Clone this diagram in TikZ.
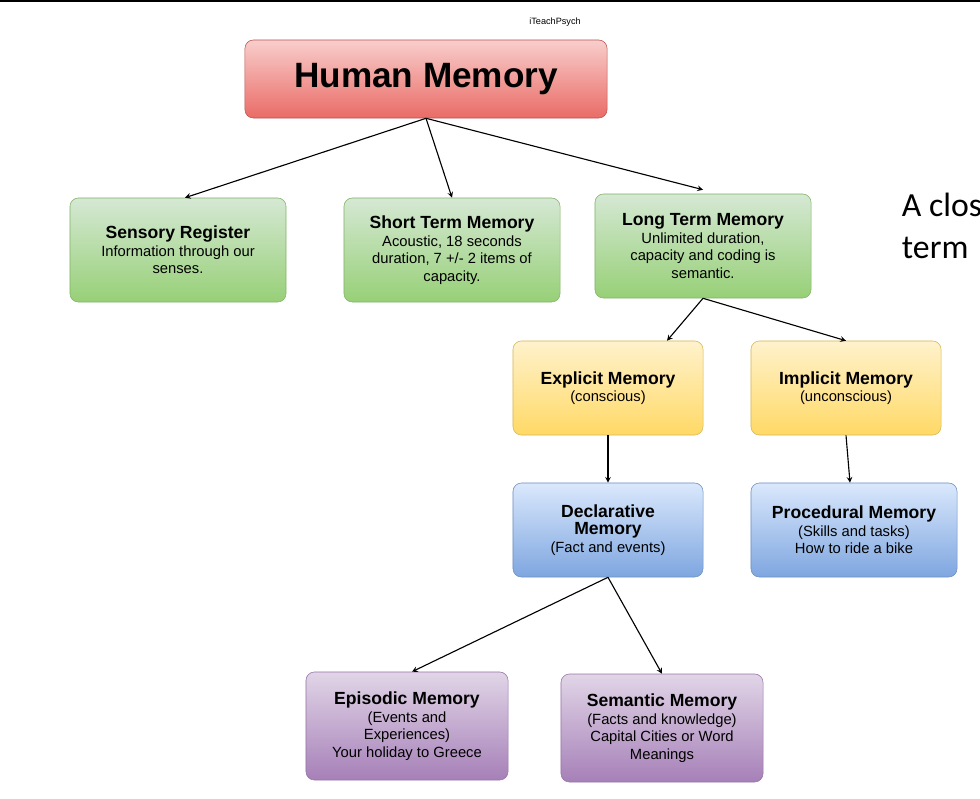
\documentclass[tikz,border=0pt]{standalone}
\usepackage{fontspec}
\setmainfont{Liberation Sans}
\newfontfamily\calfont{Carlito}
\usetikzlibrary{positioning}
\definecolor{redT}{HTML}{F8CECC}\definecolor{redB}{HTML}{EA6B66}\definecolor{redD}{HTML}{B85450}
\definecolor{grnT}{HTML}{D5E8D4}\definecolor{grnB}{HTML}{97D077}\definecolor{grnD}{HTML}{82B366}
\definecolor{ylwT}{HTML}{FFF2CC}\definecolor{ylwB}{HTML}{FFD966}\definecolor{ylwD}{HTML}{D6B656}
\definecolor{bluT}{HTML}{DAE8FC}\definecolor{bluB}{HTML}{7EA6E0}\definecolor{bluD}{HTML}{6C8EBF}
\definecolor{prpT}{HTML}{E1D5E7}\definecolor{prpB}{HTML}{A680B8}\definecolor{prpD}{HTML}{9673A6}
\newcommand\boxttl{\bfseries\fontsize{12.5}{15}\selectfont}

\begin{document}
\begin{tikzpicture}[x=0.025cm,y=-0.025cm,
	box/.style={rounded corners=6pt, align=center, inner sep=2pt, font=\fontsize{10.5}{12.5}\selectfont},
	green box/.style={box, draw=grnD, top color=grnT, bottom color=grnB, minimum width=5.4cm, minimum height=2.6cm},
	yellow box/.style={box, draw=ylwD, top color=ylwT, bottom color=ylwB, minimum width=4.75cm, minimum height=2.35cm},
	blue box/.style={box, draw=bluD, top color=bluT, bottom color=bluB, minimum width=4.75cm, minimum height=2.35cm},
	purple box/.style={box, draw=prpD, top color=prpT, bottom color=prpB, minimum width=5.05cm, minimum height=2.7cm},
	arr/.style={->, >=stealth, thick}]
	\useasboundingbox (0,0) rectangle (980,798);
	\draw[thick] (0,1) -- (980,1);
	\node[font=\fontsize{6.5}{8}\selectfont] (brand) at (555,22) {iTeachPsych};
	\node[box, draw=redD, top color=redT, bottom color=redB, minimum width=9.05cm, minimum height=1.95cm,
		font=\bfseries\fontsize{25}{30}\selectfont] (hm) at (426,79) {Human Memory};
	% first level
	\node[green box] (sr) at (178,250) {{\boxttl Sensory Register}\\Information through our\\senses.};
	\node[green box] (stm) at (452,250) {{\boxttl Short Term Memory}\\Acoustic, 18 seconds\\duration, 7 +/- 2 items of\\capacity.};
	\node[green box] (ltm) at (703,246) {{\boxttl Long Term Memory}\\Unlimited duration,\\capacity and coding is\\semantic.};
	% long term branches
	\node[yellow box] (ex) at (608,388) {{\boxttl Explicit Memory}\\(conscious)};
	\node[yellow box] (im) at (846,388) {{\boxttl Implicit Memory}\\(unconscious)};
	\node[blue box] (dm) at (608,530) {{\boxttl Declarative}\\{\boxttl Memory}\\(Fact and events)};
	\node[blue box, minimum width=5.15cm] (pm) at (854,530) {{\boxttl Procedural Memory}\\(Skills and tasks)\\How to ride a bike};
	\node[purple box] (ep) at (407,726) {{\boxttl Episodic Memory}\\(Events and\\Experiences)\\Your holiday to Greece};
	\node[purple box] (sm) at (662,728) {{\boxttl Semantic Memory}\\(Facts and knowledge)\\Capital Cities or Word\\Meanings};
	\node[anchor=north west, align=left, font=\calfont\fontsize{24}{30}\selectfont] (side) at (897,188) {A close\\term};
	% connectors
	\draw[arr] (hm.south) -- ([xshift=7*0.025cm]sr.north);
	\draw[arr] (hm.south) -- (stm.north);
	\draw[arr] (hm.south) -- ([yshift=4*0.025cm]ltm.north);
	\draw[arr] (ltm.south) -- ([xshift=59*0.025cm]ex.north);
	\draw[arr] (ltm.south) -- (im.north);
	\draw[arr] (ex.south) -- (dm.north);
	\draw[arr] (im.south) -- ([xshift=-4*0.025cm]pm.north);
	\draw[arr] (dm.south) -- ([xshift=5*0.025cm]ep.north);
	\draw[arr] (dm.south) -- (sm.north);
\end{tikzpicture}
\end{document}
